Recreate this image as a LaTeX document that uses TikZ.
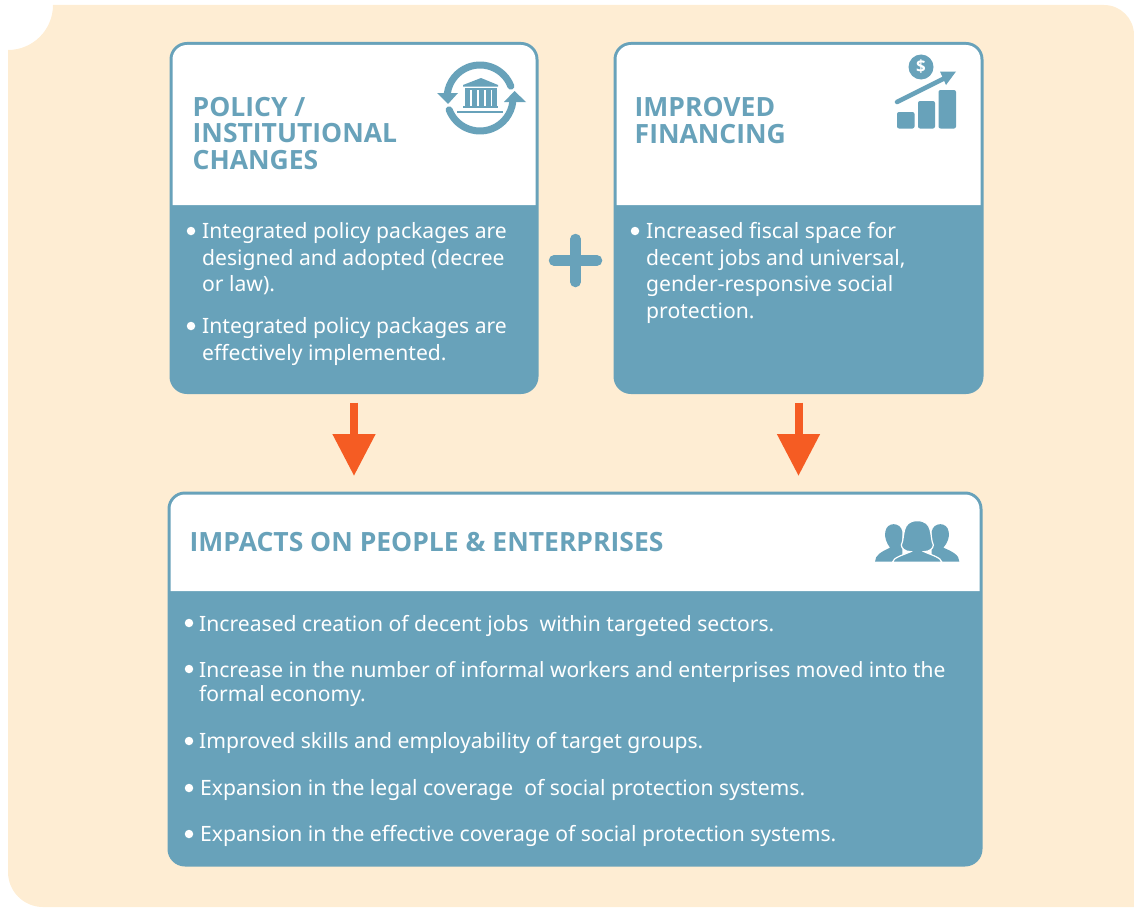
\documentclass[tikz,border=0pt]{standalone}
\usepackage{fontspec}
\setmainfont{Noto Sans}
\newfontfamily\hbf{Open Sans}
\usetikzlibrary{arrows.meta}
\definecolor{bg}{HTML}{FEEDD3}
\definecolor{teal}{HTML}{68A2BA}
\definecolor{org}{HTML}{F55C23}
\tikzset{
  boxbody/.style={fill=teal,draw=teal,line width=3pt,rounded corners=16pt,inner sep=0pt,outer sep=0pt,anchor=north west},
  head/.style={text=teal,font=\fontsize{26.5}{26.5}\selectfont\hbf\bfseries,align=left,anchor=base west,inner sep=0pt},
  bodytext/.style={text=white,font=\fontsize{21.12}{26.6}\selectfont,align=left,anchor=base west,inner sep=0pt},
  bodytextb/.style={text=white,font=\fontsize{21.12}{24}\selectfont,align=left,anchor=base west,inner sep=0pt},
  dot/.style={circle,fill=white,minimum size=8.5pt,inner sep=0pt},
  flow/.style={org,line width=8pt,-{Triangle[width=41pt,length=42pt]},shorten <=10pt,shorten >=17pt},
  icon/.style={fill=teal,draw=none},
}
\begin{document}
\begin{tikzpicture}[x=1pt,y=-1pt]
\useasboundingbox (0,0) rectangle (1134,907);
% background
\fill[bg] (53,5) -- (1104,5) arc[start angle=-90,end angle=0,radius=30] -- (1134,907) -- (43,907)
  arc[start angle=90,end angle=180,radius=35] -- (8,50) arc[start angle=90,end angle=0,radius=45] -- cycle;
% boxes
\node[boxbody,minimum width=366pt,minimum height=349pt] (left) at (171,43.5) {};
\node[boxbody,minimum width=367pt,minimum height=349pt] (right) at (615,43.5) {};
\node[boxbody,minimum width=812pt,minimum height=372pt] (bottom) at (169,493) {};
\fill[white] (172.5,205) -- (172.5,100) {[rounded corners=14.5pt] -- (172.5,45) -- (535.5,45) -- (535.5,100)} -- (535.5,205) -- cycle;
\fill[white] (616.5,205) -- (616.5,100) {[rounded corners=14.5pt] -- (616.5,45) -- (980.5,45) -- (980.5,100)} -- (980.5,205) -- cycle;
\fill[white] (170.5,591) -- (170.5,550) {[rounded corners=14.5pt] -- (170.5,494.5) -- (979.5,494.5) -- (979.5,550)} -- (979.5,591) -- cycle;
% headings
\node[head] (h1) at (192.5,169) {POLICY /\\INSTITUTIONAL\\CHANGES};
\node[head] (h2) at (634.5,143) {IMPROVED\\FINANCING};
\node[head] (h3) at (189.5,551.7) {IMPACTS ON PEOPLE \& ENTERPRISES};
% left bullets
\node[dot] (d1) at (191,231) {};
\node[bodytext] (t1) at (202,291.7) {Integrated policy packages are\\designed and adopted (decree\\or law).};
\node[dot] (d2) at (191,326) {};
\node[bodytext] (t2) at (202,360) {Integrated policy packages are\\effectively implemented.};
% right bullet
\node[dot] (d3) at (635,231) {};
\node[bodytext] (t3) at (646,318.3) {Increased fiscal space for\\decent jobs and universal,\\gender-responsive social\\protection.};
% bottom bullets
\node[dot] (d4) at (189,623) {};
\node[bodytextb] (t4) at (199,631.3) {Increased creation of decent jobs\ \ within targeted sectors.};
\node[dot] (d5) at (189,669) {};
\node[bodytextb,font=\fontsize{21.03}{24}\selectfont] (t5) at (199,701.3) {Increase in the number of informal workers and enterprises moved into the\\formal economy.};
\node[dot] (d6) at (189,741) {};
\node[bodytextb] (t6) at (199,748) {Improved skills and employability of target groups.};
\node[dot] (d7) at (189,788) {};
\node[bodytextb] (t7) at (200,795) {Expansion in the legal coverage\ \ of social protection systems.};
\node[dot] (d8) at (189,834) {};
\node[bodytextb] (t8) at (200,841) {Expansion in the effective coverage of social protection systems.};
% plus
\draw[teal,line width=10.5pt,line cap=round] (554,260.5) -- (597,260.5);
\draw[teal,line width=10.5pt,line cap=round] (575.5,239) -- (575.5,282);
% arrows
\draw[flow] (left.south) -- (left.south |- bottom.north);
\draw[flow] (right.south) -- (right.south |- bottom.north);
% bank icon
\draw[teal,line width=7pt,line cap=round] (480,98) ++(-21:33) arc[start angle=-21,end angle=-172,radius=33];
\draw[teal,line width=7pt,line cap=round] (480,98) ++(159:33) arc[start angle=159,end angle=7,radius=33];
\fill[icon] (437,93) -- (458,93) -- (448,104) -- cycle;
\fill[icon] (504,102) -- (526,102) -- (514.5,91) -- cycle;
\fill[icon] (463,85) -- (481,78) -- (498,85) -- (498,86.5) -- (463,86.5) -- cycle;
\fill[icon] (465,87.5) rectangle (497,90);
\foreach \cx in {465,472,479,486,492}{\fill[icon] (\cx,88) rectangle ++(5,18);}
\fill[icon] (463,106) rectangle (498,108);
\fill[icon] (457,110.5) rectangle (503,112.5);
% chart icon
\fill[icon] (921,67) circle[radius=12.5];
\node[text=white,font=\fontsize{17}{17}\selectfont\hbf\bfseries,inner sep=0pt] (dollar) at (921,67) {\$};
\draw[teal,line width=4.5pt,line cap=round] (897,102) -- (945,78);
\fill[icon] (940,71.5) -- (956,71.5) -- (946,85) -- cycle;
\fill[icon,rounded corners=2pt] (897,112) rectangle (914.5,128.5);
\fill[icon,rounded corners=2pt] (918,101) rectangle (935,128.5);
\fill[icon,rounded corners=2pt] (938.5,90) rectangle (956,128.5);
% people icon
\begin{scope}[shift={(860,500)},x=0.3333pt,y=-0.3333pt]
\fill[icon] (45,185) .. controls (45,165) and (65,155) .. (90,143)
  .. controls (80,130) and (72,110) .. (76,95) .. controls (80,65) and (122,65) .. (127,95)
  -- (127,185) -- cycle;
\fill[icon] (298,185) .. controls (298,165) and (278,155) .. (250,143)
  .. controls (262,130) and (270,110) .. (266,95) .. controls (262,65) and (220,65) .. (215,95)
  -- (215,185) -- cycle;
\fill[icon,draw=white,line width=1.2pt] (97,187) .. controls (100,172) and (130,165) .. (152,155)
  .. controls (135,155) and (124,145) .. (124,135)
  .. controls (136,110) and (122,62) .. (172,62)
  .. controls (222,62) and (208,110) .. (220,135)
  .. controls (220,145) and (209,155) .. (192,155)
  .. controls (214,165) and (243,172) .. (246,187) -- cycle;
\end{scope}
\end{tikzpicture}
\end{document}
